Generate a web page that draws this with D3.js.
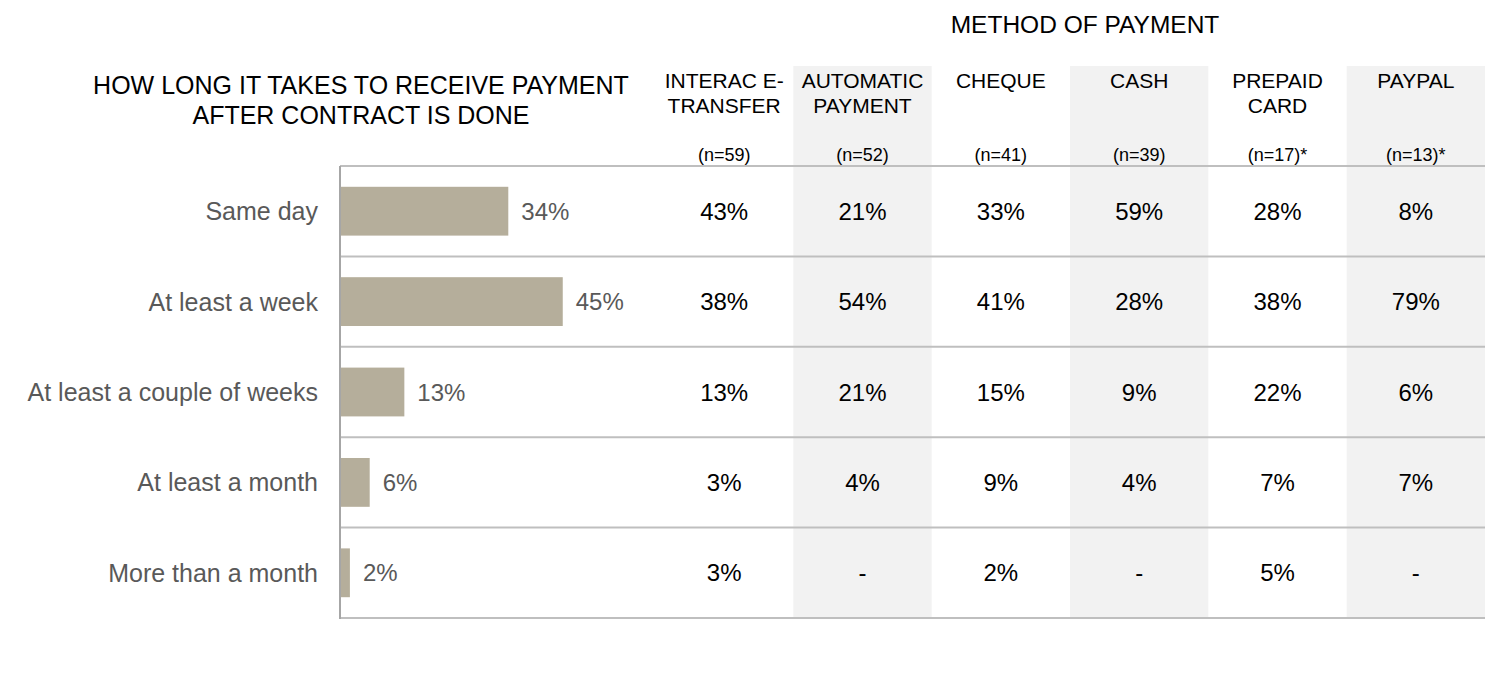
<!DOCTYPE html>
<html>
<head>
<meta charset="utf-8">
<script src="https://cdn.jsdelivr.net/npm/d3@7"></script>
<style>
  html, body { margin: 0; padding: 0; background: #fff; }
  svg { display: block; font-family: "Liberation Sans", Arial, sans-serif; }
</style>
</head>
<body>
<svg id="chart" width="1486" height="700"></svg>
<script>
const categories = ["Same day", "At least a week", "At least a couple of weeks", "At least a month", "More than a month"];
const totalValues = [34, 45, 13, 6, 2];
const methods = ["INTERAC E-|TRANSFER", "AUTOMATIC|PAYMENT", "CHEQUE", "CASH", "PREPAID|CARD", "PAYPAL"];
const sampleSizes = ["(n=59)", "(n=52)", "(n=41)", "(n=39)", "(n=17)*", "(n=13)*"];
const interacValues = [43, 38, 13, 3, 3];
const automaticValues = [21, 54, 21, 4, null];
const chequeValues = [33, 41, 15, 9, 2];
const cashValues = [59, 28, 9, 4, null];
const prepaidValues = [28, 38, 22, 7, 5];
const paypalValues = [8, 79, 6, 7, null];
const methodValues = [interacValues, automaticValues, chequeValues, cashValues, prepaidValues, paypalValues];
const shadedMethods = [1, 3, 5];

(function () {
const svg = d3.select("#chart");

const plotTop = 166, plotBottom = 618;
const axisX = 340;
const tableLeft = 655, tableRight = 1485;

const y = d3.scaleBand().domain(categories).range([plotTop, plotBottom]).padding(0);
const x = d3.scaleLinear().domain([0, 100]).range([axisX, axisX + 495]);
const col = d3.scaleBand().domain(methods).range([tableLeft, tableRight]).padding(0);

// shaded columns
svg.append("g").selectAll("rect")
  .data(shadedMethods)
  .join("rect")
  .attr("x", i => col(methods[i]))
  .attr("y", 66)
  .attr("width", col.bandwidth())
  .attr("height", plotBottom - 66)
  .attr("fill", "#f2f2f2");

// horizontal grid lines
const lineYs = categories.map(c => y(c)).concat([plotBottom]);
svg.append("g").selectAll("line")
  .data(lineYs)
  .join("line")
  .attr("x1", axisX)
  .attr("x2", tableRight)
  .attr("y1", d => d)
  .attr("y2", d => d)
  .attr("stroke", "#bfbfbf")
  .attr("stroke-width", 2);

// vertical axis line
svg.append("line")
  .attr("x1", axisX).attr("x2", axisX)
  .attr("y1", plotTop).attr("y2", plotBottom + 1)
  .attr("stroke", "#a6a6a6")
  .attr("stroke-width", 2);

// bars
const barH = y.bandwidth() * 0.54;
svg.append("g").selectAll("rect")
  .data(totalValues)
  .join("rect")
  .attr("x", x(0) + 1)
  .attr("y", (d, i) => y(categories[i]) + (y.bandwidth() - barH) / 2)
  .attr("width", d => x(d) - x(0) - 1)
  .attr("height", barH)
  .attr("fill", "#b5ae9b");

// bar value labels
svg.append("g").selectAll("text")
  .data(totalValues)
  .join("text")
  .attr("x", d => x(d) + 13)
  .attr("y", (d, i) => y(categories[i]) + y.bandwidth() / 2)
  .attr("dy", "0.36em")
  .attr("font-size", 24)
  .attr("fill", "#595959")
  .text(d => d + "%");

// category labels
svg.append("g").selectAll("text")
  .data(categories)
  .join("text")
  .attr("x", 318)
  .attr("y", d => y(d) + y.bandwidth() / 2)
  .attr("dy", "0.36em")
  .attr("text-anchor", "end")
  .attr("font-size", 25)
  .attr("fill", "#595959")
  .text(d => d);

// table values
methods.forEach((m, mi) => {
  svg.append("g").selectAll("text")
    .data(methodValues[mi])
    .join("text")
    .attr("x", col(m) + col.bandwidth() / 2)
    .attr("y", (d, i) => y(categories[i]) + y.bandwidth() / 2)
    .attr("dy", "0.36em")
    .attr("text-anchor", "middle")
    .attr("font-size", 24)
    .attr("fill", "#000")
    .text(d => d == null ? "-" : d + "%");
});

// column headers
methods.forEach((m, mi) => {
  const lines = m.split("|");
  const t = svg.append("text")
    .attr("x", col(m) + col.bandwidth() / 2)
    .attr("y", 88)
    .attr("text-anchor", "middle")
    .attr("font-size", 21)
    .attr("fill", "#000");
  lines.forEach((l, li) => {
    t.append("tspan")
      .attr("x", col(m) + col.bandwidth() / 2)
      .attr("dy", li === 0 ? 0 : 25)
      .text(l);
  });
  svg.append("text")
    .attr("x", col(m) + col.bandwidth() / 2)
    .attr("y", 161)
    .attr("text-anchor", "middle")
    .attr("font-size", 18)
    .attr("fill", "#000")
    .text(sampleSizes[mi]);
});

// top header
svg.append("text")
  .attr("x", (tableLeft + tableRight) / 2 + 15)
  .attr("y", 33)
  .attr("text-anchor", "middle")
  .attr("font-size", 24.5)
  .attr("fill", "#000")
  .text("METHOD OF PAYMENT");

// left title
const title = svg.append("text")
  .attr("x", 361)
  .attr("y", 94)
  .attr("text-anchor", "middle")
  .attr("font-size", 25)
  .attr("fill", "#000");
title.append("tspan").attr("x", 361).text("HOW LONG IT TAKES TO RECEIVE PAYMENT");
title.append("tspan").attr("x", 361).attr("dy", 30).text("AFTER CONTRACT IS DONE");
})();
</script>
</body>
</html>
